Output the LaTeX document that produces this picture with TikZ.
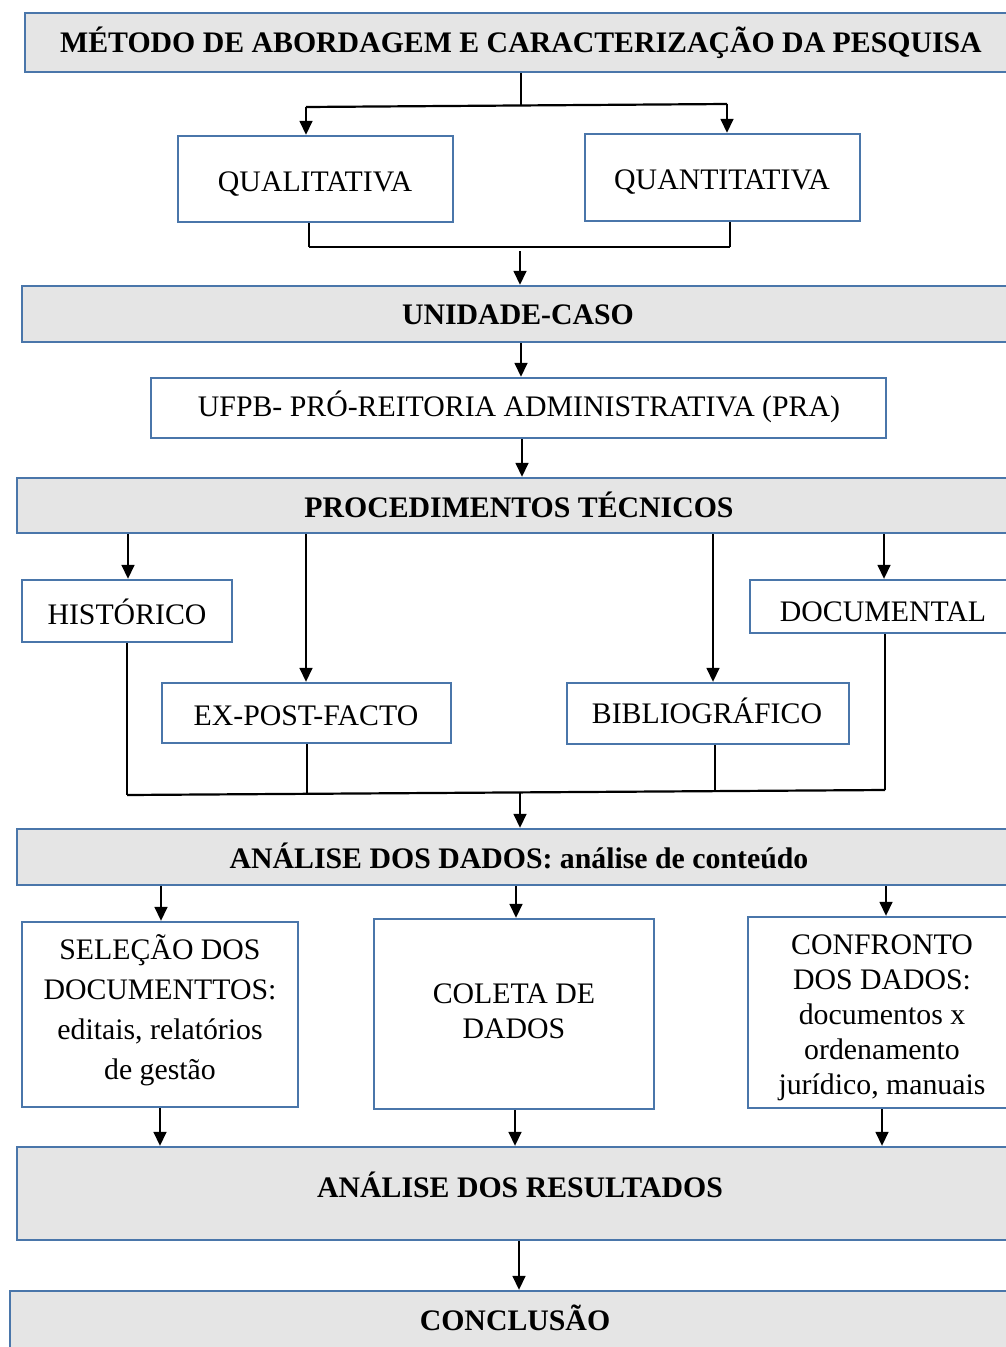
\documentclass[tikz,border=0pt]{standalone}
\usepackage{fontspec}
\setmainfont{Liberation Serif}
\usetikzlibrary{arrows.meta}
\definecolor{edgeblue}{HTML}{4A76AA}
\definecolor{headgray}{HTML}{E5E5E5}
\begin{document}
\begin{tikzpicture}[x=1pt,y=-1pt,
  box/.style={draw=edgeblue, line width=2.4pt, fill=white, inner sep=0pt},
  headbox/.style={box, fill=headgray},
  lbl/.style={font=\fontsize{29.8}{35}\selectfont, align=center, inner sep=0pt, anchor=base},
  hlbl/.style={lbl, font=\fontsize{29.8}{35}\selectfont\bfseries},
  link/.style={line width=1.6pt},
  branch/.style={line width=2.2pt},
  arr/.style={link, -{Triangle[width=13pt,length=14pt]}}]
\useasboundingbox (0,0) rectangle (1006,1347);
\clip (0,0) rectangle (1006,1347);
\fill[white] (0,0) rectangle (1006,1347);

% ---- boxes ----
\node[headbox, minimum width=1005, minimum height=59] (title) at (527.5,42.5) {};
\node[box, minimum width=275, minimum height=86] (quali) at (315.5,179) {};
\node[box, minimum width=275, minimum height=87] (quant) at (722.5,177.5) {};
\node[headbox, minimum width=1008, minimum height=56] (unid) at (526,314) {};
\node[box, minimum width=735, minimum height=60] (ufpb) at (518.5,408) {};
\node[headbox, minimum width=1013, minimum height=55] (proc) at (523.5,505.5) {};
\node[box, minimum width=210, minimum height=62] (hist) at (127,611) {};
\node[box, minimum width=280, minimum height=53] (doc) at (890,606.5) {};
\node[box, minimum width=289, minimum height=60] (expf) at (306.5,713) {};
\node[box, minimum width=282, minimum height=61] (bib) at (708,713.5) {};
\node[headbox, minimum width=1013, minimum height=56] (anal) at (523.5,857) {};
\node[box, minimum width=276, minimum height=185] (sel) at (160,1014.5) {};
\node[box, minimum width=280, minimum height=190] (col) at (514,1014) {};
\node[box, minimum width=282, minimum height=191] (conf) at (889,1012.5) {};
\node[headbox, minimum width=1013, minimum height=93] (res) at (523.5,1193.5) {};
\node[headbox, minimum width=1020, minimum height=69] (conc) at (520,1325.5) {};

% ---- texts (multi-line texts sit on the baseline of their last line) ----
\node[hlbl] (ttitle) at (521,52) {MÉTODO DE ABORDAGEM E CARACTERIZAÇÃO DA PESQUISA};
\node[lbl] (tquali) at (315,191) {QUALITATIVA};
\node[lbl] (tquant) at (722,189) {QUANTITATIVA};
\node[hlbl] (tunid) at (518,324) {UNIDADE-CASO};
\node[lbl] (tufpb) at (519,416) {UFPB- PRÓ-REITORIA ADMINISTRATIVA (PRA)};
\node[hlbl] (tproc) at (519,517) {PROCEDIMENTOS TÉCNICOS};
\node[lbl] (thist) at (127,624) {HISTÓRICO};
\node[lbl] (tdoc) at (883,621) {DOCUMENTAL};
\node[lbl] (texpf) at (306,725) {EX-POST-FACTO};
\node[lbl] (tbib) at (707,723) {BIBLIOGRÁFICO};
\node[hlbl] (tanal) at (519,868) {ANÁLISE DOS DADOS: análise de conteúdo};
\node[lbl, font=\fontsize{29.8}{39.7}\selectfont] (tsel) at (160,1079)
  {SELEÇÃO DOS\\DOCUMENTTOS:\\editais, relatórios\\de gestão};
\node[lbl] (tcol) at (514,1038) {COLETA DE\\DADOS};
\node[lbl] (tconf) at (882,1094)
  {CONFRONTO\\DOS DADOS:\\documentos x\\ordenamento\\jurídico, manuais};
\node[hlbl] (tres) at (520,1197) {ANÁLISE DOS RESULTADOS};
\node[hlbl] (tconc) at (515,1330) {CONCLUSÃO};

% ---- connectors: method to approaches ----
\coordinate (s1) at (521,106);
\coordinate (s1l) at (306,107);
\coordinate (s1r) at (727,104);
\draw[link] (title.south -| s1) -- (s1);
\draw[branch] (s1l) -- (s1r);
\draw[arr] (s1l) -- (s1l |- quali.north);
\draw[arr] (s1r) -- (s1r |- quant.north);

% ---- approaches to case unit ----
\coordinate (m1l) at (309,247);
\coordinate (m1r) at (730,247);
\coordinate (m1c) at (520,251);
\draw[link] (m1l |- quali.south) -- (m1l);
\draw[link] (m1r |- quant.south) -- (m1r);
\draw[branch] (m1l) -- (m1r);
\draw[arr] (m1c) -- (m1c |- unid.north);

% ---- case unit chain ----
\coordinate (c1) at (521,0);
\coordinate (c2) at (522,0);
\draw[arr] (c1 |- unid.south) -- (c1 |- ufpb.north);
\draw[arr] (c2 |- ufpb.south) -- (c2 |- proc.north);

% ---- technical procedures ----
\coordinate (p1) at (128,0);
\coordinate (p2) at (306,0);
\coordinate (p3) at (713,0);
\coordinate (p4) at (884,0);
\draw[arr] (p1 |- proc.south) -- (p1 |- hist.north);
\draw[arr] (p2 |- proc.south) -- (p2 |- expf.north);
\draw[arr] (p3 |- proc.south) -- (p3 |- bib.north);
\draw[arr] (p4 |- proc.south) -- (p4 |- doc.north);

% ---- procedures merge into data analysis ----
\coordinate (m2a) at (127,795);
\coordinate (m2b) at (307,794);
\coordinate (m2c) at (715,792);
\coordinate (m2d) at (885,790);
\coordinate (m2m) at (520,793);
\draw[link] (m2a |- hist.south) -- (m2a);
\draw[link] (m2b |- expf.south) -- (m2b);
\draw[link] (m2c |- bib.south) -- (m2c);
\draw[link] (m2d |- doc.south) -- (m2d);
\draw[branch] (m2a) -- (m2d);
\draw[arr] (m2m) -- (m2m |- anal.north);

% ---- data analysis steps ----
\coordinate (d1) at (161,0);
\coordinate (d2) at (516,0);
\coordinate (d3) at (886,0);
\draw[arr] (d1 |- anal.south) -- (d1 |- sel.north);
\draw[arr] (d2 |- anal.south) -- (d2 |- col.north);
\draw[arr] (d3 |- anal.south) -- (d3 |- conf.north);

\coordinate (e1) at (160,0);
\coordinate (e2) at (515,0);
\coordinate (e3) at (882,0);
\draw[arr] (e1 |- sel.south) -- (e1 |- res.north);
\draw[arr] (e2 |- col.south) -- (e2 |- res.north);
\draw[arr] (e3 |- conf.south) -- (e3 |- res.north);

% ---- results to conclusion ----
\coordinate (r1) at (519,0);
\draw[arr] (r1 |- res.south) -- (r1 |- conc.north);
\end{tikzpicture}
\end{document}
